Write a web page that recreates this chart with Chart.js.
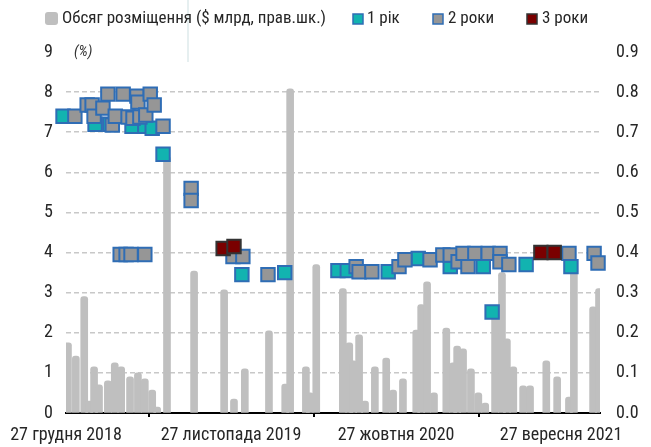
<!DOCTYPE html>
<html>
<head>
<meta charset="utf-8">
<script src="https://cdn.jsdelivr.net/npm/chart.js@4.4.0/dist/chart.umd.min.js"></script>
<style>
  html, body { margin: 0; padding: 0; background: #fff; }
</style>
</head>
<body>
<canvas id="myChart" width="651" height="447"></canvas>
<script>
// x values are days counted from 27.12.2018
var volumeDays = [4, 20, 37, 47, 57, 67, 85, 99, 112, 130, 146, 160, 175, 185, 205, 260, 321, 341, 363, 412, 445, 455, 487, 495, 508,
  562, 575, 583, 595, 607, 627, 650, 664, 684, 711, 721, 733, 747, 772, 786, 794, 806, 822, 837, 851, 871, 885, 895, 908, 928, 942,
  975, 997, 1021, 1031, 1070, 1082];
var volumeValues = [0.175, 0.142, 0.29, 0.03, 0.115, 0.07, 0.08, 0.125, 0.115, 0.09, 0.10, 0.085, 0.057, 0.015, 0.64, 0.354, 0.307, 0.035, 0.11, 0.205, 0.072, 0.808, 0.115, 0.05, 0.37,
  0.31, 0.175, 0.13, 0.195, 0.03, 0.115, 0.137, 0.057, 0.085, 0.207, 0.27, 0.327, 0.05, 0.212, 0.125, 0.167, 0.16, 0.11, 0.05, 0.025, 0.24, 0.35, 0.185, 0.115, 0.068, 0.068,
  0.13, 0.09, 0.04, 0.38, 0.265, 0.31];

var oneYearDays = [-6, 59, 89, 134, 160, 175, 197, 357, 444, 552, 571, 654, 715, 780, 847, 865, 934, 1025];
var oneYearRates = [7.4, 7.2, 7.2, 7.15, 7.15, 7.1, 6.45, 3.45, 3.5, 3.55, 3.55, 3.52, 3.85, 3.65, 3.65, 2.52, 3.7, 3.65];

var twoYearDays = [18, 43, 53, 57, 75, 85, 94, 100, 116, 126, 136, 144, 146, 150, 162, 171, 179, 197,
  110, 122, 132, 160, 254, 254, 339, 359, 410, 589, 595, 621, 676, 688, 739, 765, 780, 796, 806, 816, 830, 857, 881, 881, 899,
  1021, 1072, 1080];
var twoYearRates = [7.4, 7.68, 7.68, 7.4, 7.6, 7.95, 7.18, 7.4, 7.95, 7.38, 7.35, 7.9, 7.75, 7.38, 7.43, 7.95, 7.68, 7.15,
  3.95, 3.95, 3.95, 3.95, 5.6, 5.3, 3.9, 3.9, 3.45, 3.65, 3.52, 3.52, 3.65, 3.82, 3.82, 3.94, 3.94, 3.77, 3.98, 3.65, 3.98, 3.98, 3.98, 3.77, 3.7,
  3.98, 3.98, 3.74];

var threeYearDays = [319, 341, 964, 991];
var threeYearRates = [4.1, 4.15, 4.0, 4.0];

var tickDays = [0, 335, 670, 1005];
var tickLabels = ['27 грудня 2018', '27 листопада 2019', '27 жовтня 2020', '27 вересня 2021'];

var seriesNames = ['Обсяг розміщення ($ млрд, прав.шк.)', '1 рік', '2 роки', '3 роки'];

var FONT = "'Roboto Condensed', Roboto, sans-serif";
var TEXT = '#262626';

function pairs(xs, ys) {
  return xs.map(function (x, i) { return { x: x, y: ys[i] }; });
}

var BLUE = '#2f6db5';

// legend + small annotations drawn by hand
var extras = {
  id: 'extras',
  afterDraw: function (chart) {
    var ctx = chart.ctx;
    ctx.save();
    // faint stray line seen in the source picture
    ctx.strokeStyle = '#e6eff0';
    ctx.lineWidth = 2;
    ctx.beginPath(); ctx.moveTo(188, 0); ctx.lineTo(188, 62); ctx.stroke();

    ctx.font = '17px ' + FONT;
    ctx.textBaseline = 'middle';
    var y = 19;
    var ds = chart.data.datasets;
    ctx.fillStyle = ds[0].backgroundColor;
    ctx.beginPath();
    ctx.roundRect(45, 12, 13, 13, 3);
    ctx.fill();
    var items = [
      { box: 353, text: 367, i: 1 },
      { box: 433, text: 448, i: 2 },
      { box: 527, text: 542, i: 3 }
    ];
    items.forEach(function (it) {
      ctx.fillStyle = ds[it.i].backgroundColor;
      ctx.strokeStyle = ds[it.i].borderColor;
      ctx.lineWidth = 1.5;
      ctx.fillRect(it.box, 14, 10, 10);
      ctx.strokeRect(it.box, 14, 10, 10);
    });
    ctx.fillStyle = TEXT;
    ctx.fillText(seriesNames[0], 62, y);
    items.forEach(function (it) { ctx.fillText(seriesNames[it.i], it.text, y); });

    ctx.font = 'italic 15px ' + FONT;
    ctx.fillStyle = '#333';
    ctx.fillText('(%)', 74, 52);
    ctx.restore();
  }
};

var ctx = document.getElementById('myChart');
var myChart = new Chart(ctx, {
  type: 'bar',
  data: {
    datasets: [{
      type: 'bar',
      label: seriesNames[0],
      data: pairs(volumeDays, volumeValues),
      yAxisID: 'y2',
      backgroundColor: '#bfbfbf',
      barThickness: 7,
      borderRadius: 3,
      borderSkipped: 'start',
      order: 3
    }, {
      type: 'scatter',
      label: seriesNames[1],
      data: pairs(oneYearDays, oneYearRates),
      yAxisID: 'y',
      backgroundColor: '#12b3b0',
      borderColor: BLUE,
      borderWidth: 2,
      pointStyle: 'rect',
      pointRadius: 9.5,
      pointHoverRadius: 9.5,
      clip: false,
      order: 2
    }, {
      type: 'scatter',
      label: seriesNames[2],
      data: pairs(twoYearDays, twoYearRates),
      yAxisID: 'y',
      backgroundColor: '#969696',
      borderColor: BLUE,
      borderWidth: 2,
      pointStyle: 'rect',
      pointRadius: 9.5,
      pointHoverRadius: 9.5,
      clip: false,
      order: 1
    }, {
      type: 'scatter',
      label: seriesNames[3],
      data: pairs(threeYearDays, threeYearRates),
      yAxisID: 'y',
      backgroundColor: '#7a0000',
      borderColor: '#333333',
      borderWidth: 2,
      pointStyle: 'rect',
      pointRadius: 9.5,
      pointHoverRadius: 9.5,
      clip: false,
      order: 0
    }]
  },
  options: {
    responsive: false,
    animation: false,
    layout: { padding: { top: 52, left: 0, right: 0, bottom: 0 } },
    plugins: {
      legend: { display: false },
      tooltip: { enabled: false }
    },
    scales: {
      x: {
        type: 'linear',
        min: 0,
        max: 1084,
        offset: false,
        afterBuildTicks: function (scale) {
          scale.ticks = tickDays.map(function (d) { return { value: d }; });
        },
        afterFit: function (scale) { scale.height = 34; },
        ticks: {
          autoSkip: false,
          maxRotation: 0,
          padding: 8,
          color: TEXT,
          font: { family: FONT, size: 18 },
          callback: function (v) {
            var i = tickDays.indexOf(v);
            return i >= 0 ? tickLabels[i] : '';
          }
        },
        grid: { drawOnChartArea: false, drawTicks: true, tickLength: 4, color: '#000', lineWidth: 2 },
        border: { display: true, color: '#000', width: 2 }
      },
      y: {
        position: 'left',
        min: 0,
        max: 9,
        afterFit: function (scale) { scale.width = 66; },
        ticks: {
          stepSize: 1,
          padding: 13,
          color: TEXT,
          font: { family: FONT, size: 18 }
        },
        grid: {
          drawTicks: false,
          color: function (c) { return (c.tick.value === 0 || c.tick.value === 9) ? 'rgba(0,0,0,0)' : '#c8c8c8'; },
          lineWidth: 1.5
        },
        border: { display: false, dash: [5, 3] }
      },
      y2: {
        position: 'right',
        min: 0,
        max: 0.9,
        afterFit: function (scale) { scale.width = 51; },
        ticks: {
          stepSize: 0.1,
          padding: 16,
          color: TEXT,
          font: { family: FONT, size: 18 },
          callback: function (v) { return Number(v).toFixed(1); }
        },
        grid: { drawOnChartArea: false, drawTicks: false },
        border: { display: false }
      }
    }
  },
  plugins: [extras]
});
</script>
</body>
</html>
